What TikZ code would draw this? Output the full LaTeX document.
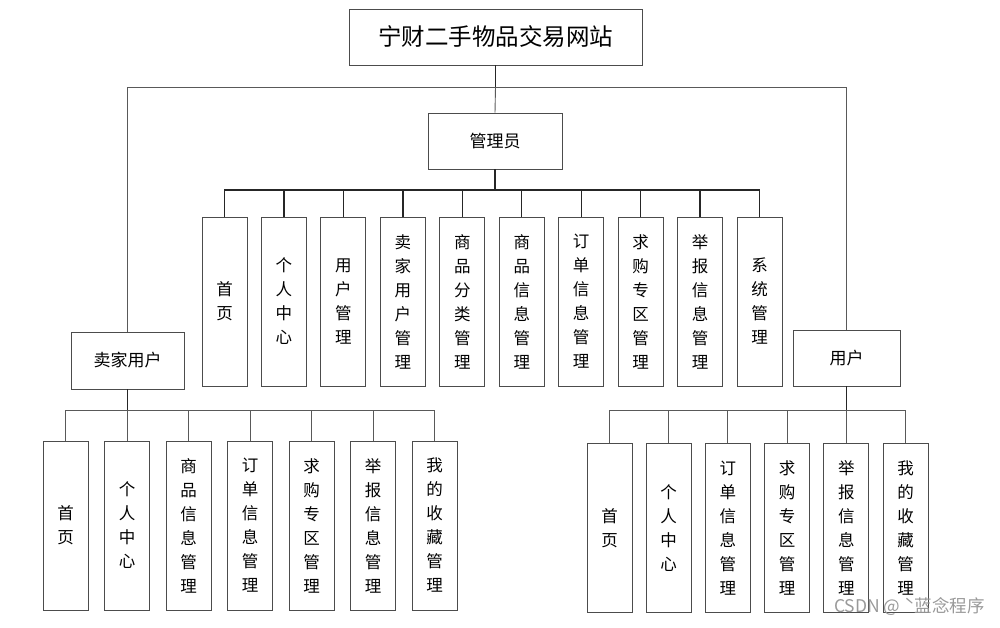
\documentclass[tikz,border=0pt]{standalone}
\usepackage{fontspec}
\newfontfamily\cjk{Noto Sans CJK SC}
\begin{document}
\begin{tikzpicture}[x=1pt,y=-1pt,
  box/.style={draw=black!70,line width=0.9pt,fill=white,inner sep=0pt,align=center},
  titlebox/.style={box,minimum width=293pt,minimum height=56pt,font=\cjk\fontsize{23.5}{26}\selectfont},
  rolebox/.style={box,minimum height=56pt,font=\cjk\fontsize{17}{20}\selectfont},
  kid/.style={box,minimum width=45pt,minimum height=169pt,font=\cjk\fontsize{16.5}{24}\selectfont},
  conn/.style={draw=black!85,line width=1.3pt},
  thin/.style={draw=black!65,line width=0.9pt}]
\useasboundingbox (0,0) rectangle (1000,627);
% title and roles
\node[titlebox] (title) at (495.5,37) {宁财二手物品交易网站};
\node[rolebox,minimum width=134pt] (admin) at (495,141) {管理员};
\node[rolebox,minimum width=113pt,minimum height=57pt] (seller) at (127.5,360.5) {卖家用户};
\node[rolebox,minimum width=107pt] (user) at (846.5,358) {用户};
\coordinate (tl) at (127.5,87);
% top connectors
\draw[conn] (title.south) -- (title.south |- tl);
\draw[thin] (title.south |- tl) -- (admin.north);
\draw[thin] (seller.north) -- (seller.north |- tl) -- (user.north |- tl) -- (user.north);
% admin children
\coordinate (abus) at (495,190);
\foreach \i/\t in {0/{首\\页},1/{个\\人\\中\\心},2/{用\\户\\管\\理},3/{卖\\家\\用\\户\\管\\理},4/{商\\品\\分\\类\\管\\理},5/{商\\品\\信\\息\\管\\理},6/{订\\单\\信\\息\\管\\理},7/{求\\购\\专\\区\\管\\理},8/{举\\报\\信\\息\\管\\理},9/{系\\统\\管\\理}}{
  \node[kid] (a\i) at ({224.5+59.45*\i},301.5) {\t};
  \draw[conn] (abus) -| (a\i.north);
}
\draw[conn] (admin.south) -- (abus);
% seller children
\coordinate (sbus) at (127.5,410);
\foreach \i/\t in {0/{首\\页},1/{个\\人\\中\\心},2/{商\\品\\信\\息\\管\\理},3/{订\\单\\信\\息\\管\\理},4/{求\\购\\专\\区\\管\\理},5/{举\\报\\信\\息\\管\\理},6/{我\\的\\收\\藏\\管\\理}}{
  \node[kid] (s\i) at ({65.5+61.5*\i},525.5) {\t};
  \draw[thin] (sbus) -| (s\i.north);
}
\draw[conn] (seller.south) -- (sbus);
% user children
\coordinate (ubus) at (846.5,410);
\foreach \i/\t in {0/{首\\页},1/{个\\人\\中\\心},2/{订\\单\\信\\息\\管\\理},3/{求\\购\\专\\区\\管\\理},4/{举\\报\\信\\息\\管\\理},5/{我\\的\\收\\藏\\管\\理}}{
  \node[kid] (u\i) at ({609.5+59.2*\i},528) {\t};
  \draw[thin] (ubus) -| (u\i.north);
}
\draw[conn] (user.south) -- (ubus);
% watermark
\node[anchor=east,text=black!40,font=\cjk\fontsize{17.5}{19}\selectfont,inner sep=0pt] (wm) at (985,607) {CSDN @ ˋ蓝念程序};
\end{tikzpicture}
\end{document}
